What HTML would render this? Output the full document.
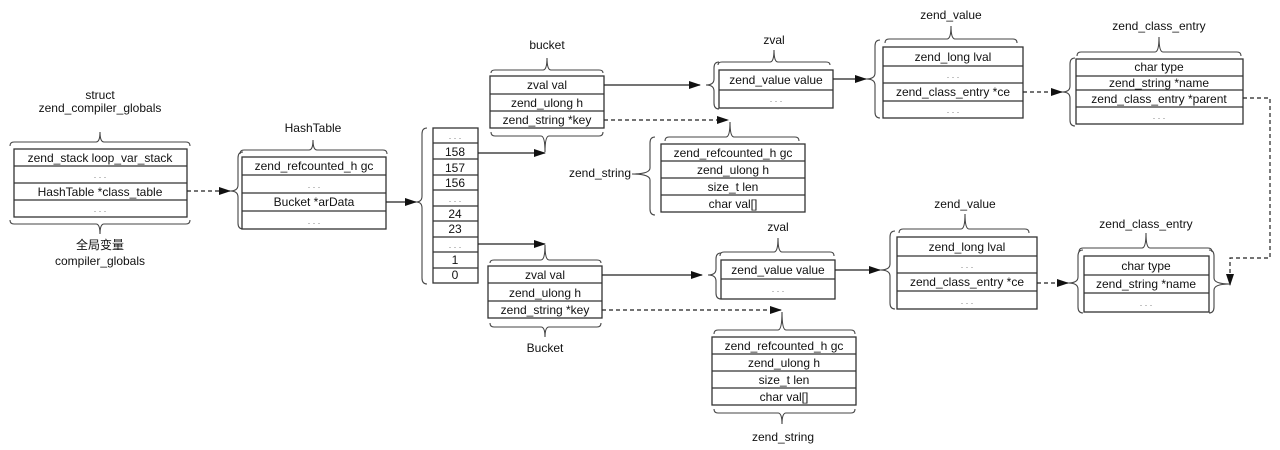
<!DOCTYPE html>
<html><head><meta charset="utf-8"><style>
html,body{margin:0;padding:0;background:#fff;width:1280px;height:450px;overflow:hidden}
svg text{font-family:"Liberation Sans","Noto Sans CJK SC",sans-serif;font-size:12px;fill:#111;text-anchor:middle}
.b{fill:#fff;stroke:#333;stroke-width:1.3}
.l{stroke:#333;stroke-width:1.2}
.br{fill:none;stroke:#444;stroke-width:1.1}
.a{stroke:#222;stroke-width:1.2;fill:none}
.d{stroke:#222;stroke-width:1.2;fill:none;stroke-dasharray:4,3}
svg text.dot{fill:#777;font-size:9px}
</style></head><body>
<svg width="1280" height="450" viewBox="0 0 1280 450" xmlns="http://www.w3.org/2000/svg">
<defs><marker id="m" markerWidth="12" markerHeight="8" refX="11" refY="4" orient="auto" markerUnits="userSpaceOnUse"><path d="M0,0 L12,4 L0,8 z" fill="#111"/></marker></defs>

<!-- compiler globals -->
<text x="100" y="99">struct</text><text x="100" y="112">zend_compiler_globals</text>
<path class="br" d="M10,146 Q10,142 14,142 L96,142 Q100,142 100,132 Q100,142 104,142 L186,142 Q190,142 190,146"/>
<rect class="b" x="14" y="149" width="173" height="68"/>
<line class="l" x1="14" y1="166" x2="187" y2="166"/><line class="l" x1="14" y1="183" x2="187" y2="183"/><line class="l" x1="14" y1="200" x2="187" y2="200"/>
<text x="100" y="162">zend_stack loop_var_stack</text><text class="dot" x="100" y="178">. . .</text>
<text x="100" y="196">HashTable *class_table</text><text class="dot" x="100" y="212">. . .</text>
<path class="br" d="M10,220 Q10,224 14,224 L96,224 Q100,224 100,234 Q100,224 104,224 L186,224 Q190,224 190,220"/>
<text x="100" y="249">全局变量</text><text x="100" y="265">compiler_globals</text>
<path class="d" d="M187,191 L230,191" marker-end="url(#m)"/>

<!-- HashTable -->
<text x="313" y="132">HashTable</text>
<path class="br" d="M240,154 Q240,150 244,150 L309,150 Q313,150 313,140 Q313,150 317,150 L383,150 Q387,150 387,154"/>
<path class="br" d="M243,152 Q238,152 238,158 L238,185 Q238,191 230,191 Q238,191 238,197 L238,223 Q238,229 243,229"/>
<rect class="b" x="242" y="157" width="144" height="72"/>
<line class="l" x1="242" y1="175" x2="386" y2="175"/><line class="l" x1="242" y1="193" x2="386" y2="193"/><line class="l" x1="242" y1="211" x2="386" y2="211"/>
<text x="314" y="170">zend_refcounted_h gc</text><text class="dot" x="314" y="188">. . .</text>
<text x="314" y="206">Bucket *arData</text><text class="dot" x="314" y="224">. . .</text>
<path class="a" d="M386,202 L416,202" marker-end="url(#m)"/>
<path class="br" d="M427,128 Q422,128 422,134 L422,196 Q422,202 416,202 Q422,202 422,208 L422,278 Q422,284 427,284"/>

<!-- array -->
<rect class="b" x="433" y="128" width="45" height="155"/>
<g class="l">
<line x1="433" y1="143" x2="478" y2="143"/><line x1="433" y1="159" x2="478" y2="159"/><line x1="433" y1="175" x2="478" y2="175"/><line x1="433" y1="190" x2="478" y2="190"/><line x1="433" y1="206" x2="478" y2="206"/><line x1="433" y1="221" x2="478" y2="221"/><line x1="433" y1="237" x2="478" y2="237"/><line x1="433" y1="252" x2="478" y2="252"/><line x1="433" y1="268" x2="478" y2="268"/>
</g>
<text class="dot" x="455" y="139">. . .</text><text x="455" y="156">158</text><text x="455" y="172">157</text><text x="455" y="187">156</text><text class="dot" x="455" y="202">. . .</text><text x="455" y="218">24</text><text x="455" y="233">23</text><text class="dot" x="455" y="248">. . .</text><text x="455" y="264">1</text><text x="455" y="279">0</text>

<!-- bucket top -->
<text x="547" y="49">bucket</text>
<path class="br" d="M491,73 Q491,70 495,70 L543,70 Q547,70 547,58 Q547,70 551,70 L599,70 Q603,70 603,73"/>
<rect class="b" x="490" y="76" width="114" height="52"/>
<line class="l" x1="490" y1="94" x2="604" y2="94"/><line class="l" x1="490" y1="111" x2="604" y2="111"/>
<text x="547" y="89">zval val</text><text x="547" y="107">zend_ulong h</text><text x="547" y="124">zend_string *key</text>
<path class="br" d="M491,132 Q491,136 495,136 L541,136 Q545,136 545,152 Q545,136 549,136 L599,136 Q603,136 603,132"/>
<path class="a" d="M478,153 L545,153" marker-end="url(#m)"/>
<path class="a" d="M604,85 L700,85" marker-end="url(#m)"/>
<path class="d" d="M604,120 L728,120" marker-end="url(#m)"/>

<!-- zval top -->
<text x="774" y="44">zval</text>
<path class="br" d="M718,65 Q718,62 722,62 L770,62 Q774,62 774,50 Q774,62 778,62 L826,62 Q830,62 830,65"/>
<path class="br" d="M719,62 Q714,62 714,68 L714,79 Q714,85 706,85 Q714,85 714,91 L714,103 Q714,109 719,109"/>
<rect class="b" x="719" y="70" width="114" height="38"/>
<line class="l" x1="719" y1="90" x2="833" y2="90"/>
<text x="776" y="84">zend_value value</text><text class="dot" x="776" y="102">. . .</text>
<path class="a" d="M833,79 L866,79" marker-end="url(#m)"/>

<!-- zend_string top -->
<path class="br" d="M665,141 Q665,137 669,137 L726,137 Q730,137 730,122 Q730,137 734,137 L795,137 Q799,137 799,141"/>
<path class="br" d="M655,137 Q650,137 650,143 L650,168 Q650,174 632,174 Q650,174 650,180 L650,209 Q650,215 655,215"/>
<text x="600" y="177">zend_string</text>
<rect class="b" x="661" y="144" width="144" height="68"/>
<line class="l" x1="661" y1="161" x2="805" y2="161"/><line class="l" x1="661" y1="178" x2="805" y2="178"/><line class="l" x1="661" y1="195" x2="805" y2="195"/>
<text x="733" y="157">zend_refcounted_h gc</text><text x="733" y="174">zend_ulong h</text><text x="733" y="191">size_t len</text><text x="733" y="208">char val[]</text>

<!-- zend_value top -->
<text x="951" y="19">zend_value</text>
<path class="br" d="M885,43 Q885,39 889,39 L947,39 Q951,39 951,26 Q951,39 955,39 L1013,39 Q1017,39 1017,43"/>
<path class="br" d="M880,40 Q875,40 875,46 L875,73 Q875,79 866,79 Q875,79 875,85 L875,112 Q875,118 880,118"/>
<rect class="b" x="883" y="47" width="140" height="71"/>
<line class="l" x1="883" y1="66" x2="1023" y2="66"/><line class="l" x1="883" y1="83" x2="1023" y2="83"/><line class="l" x1="883" y1="101" x2="1023" y2="101"/>
<text x="953" y="61">zend_long lval</text><text class="dot" x="953" y="78">. . .</text><text x="953" y="96">zend_class_entry *ce</text><text class="dot" x="953" y="113">. . .</text>
<path class="d" d="M1023,92 L1062,92" marker-end="url(#m)"/>

<!-- zend_class_entry top -->
<text x="1159" y="30">zend_class_entry</text>
<path class="br" d="M1077,56 Q1077,52 1081,52 L1155,52 Q1159,52 1159,37 Q1159,52 1163,52 L1237,52 Q1241,52 1241,56"/>
<path class="br" d="M1075,58 Q1070,58 1070,64 L1070,86 Q1070,92 1062,92 Q1070,92 1070,98 L1070,120 Q1070,126 1075,126"/>
<rect class="b" x="1076" y="59" width="167" height="65"/>
<line class="l" x1="1076" y1="76" x2="1243" y2="76"/><line class="l" x1="1076" y1="90" x2="1243" y2="90"/><line class="l" x1="1076" y1="107" x2="1243" y2="107"/>
<text x="1159" y="71">char type</text><text x="1159" y="87">zend_string *name</text><text x="1159" y="103">zend_class_entry *parent</text><text class="dot" x="1159" y="119">. . .</text>
<path class="d" d="M1243,98 L1270,98 L1270,258 L1230,258 L1230,285" marker-end="url(#m)"/>

<!-- bottom bucket -->
<path class="a" d="M478,244 L545,244" marker-end="url(#m)"/>
<path class="br" d="M490,263 Q490,260 494,260 L541,260 Q545,260 545,245 Q545,260 549,260 L597,260 Q601,260 601,263"/>
<rect class="b" x="488" y="266" width="114" height="52"/>
<line class="l" x1="488" y1="283" x2="602" y2="283"/><line class="l" x1="488" y1="301" x2="602" y2="301"/>
<text x="545" y="279">zval val</text><text x="545" y="297">zend_ulong h</text><text x="545" y="314">zend_string *key</text>
<path class="br" d="M490,323 Q490,327 494,327 L541,327 Q545,327 545,337 Q545,327 549,327 L597,327 Q601,327 601,323"/>
<text x="545" y="352">Bucket</text>
<path class="a" d="M602,275 L702,275" marker-end="url(#m)"/>
<path class="d" d="M602,310 L781,310" marker-end="url(#m)"/>

<!-- zval bottom -->
<text x="778" y="231">zval</text>
<path class="br" d="M720,256 Q720,252 724,252 L774,252 Q778,252 778,238 Q778,252 782,252 L830,252 Q834,252 834,256"/>
<path class="br" d="M721,253 Q716,253 716,259 L716,269 Q716,275 708,275 Q716,275 716,281 L716,293 Q716,299 721,299"/>
<rect class="b" x="721" y="260" width="114" height="39"/>
<line class="l" x1="721" y1="279" x2="835" y2="279"/>
<text x="778" y="274">zend_value value</text><text class="dot" x="778" y="292">. . .</text>
<path class="a" d="M835,270 L880,270" marker-end="url(#m)"/>

<!-- zend_string bottom -->
<path class="br" d="M714,334 Q714,330 718,330 L778,330 Q782,330 782,312 Q782,330 786,330 L851,330 Q855,330 855,334"/>
<rect class="b" x="712" y="337" width="144" height="68"/>
<line class="l" x1="712" y1="354" x2="856" y2="354"/><line class="l" x1="712" y1="371" x2="856" y2="371"/><line class="l" x1="712" y1="388" x2="856" y2="388"/>
<text x="784" y="350">zend_refcounted_h gc</text><text x="784" y="367">zend_ulong h</text><text x="784" y="384">size_t len</text><text x="784" y="401">char val[]</text>
<path class="br" d="M714,409 Q714,413 718,413 L778,413 Q782,413 782,424 Q782,413 786,413 L851,413 Q855,413 855,409"/>
<text x="783" y="441">zend_string</text>

<!-- zend_value bottom -->
<text x="965" y="208">zend_value</text>
<path class="br" d="M899,233 Q899,229 903,229 L961,229 Q965,229 965,214 Q965,229 969,229 L1025,229 Q1029,229 1029,233"/>
<path class="br" d="M895,231 Q890,231 890,237 L890,264 Q890,270 880,270 Q890,270 890,276 L890,303 Q890,309 895,309"/>
<rect class="b" x="897" y="237" width="140" height="72"/>
<line class="l" x1="897" y1="256" x2="1037" y2="256"/><line class="l" x1="897" y1="273" x2="1037" y2="273"/><line class="l" x1="897" y1="291" x2="1037" y2="291"/>
<text x="967" y="251">zend_long lval</text><text class="dot" x="967" y="268">. . .</text><text x="967" y="286">zend_class_entry *ce</text><text class="dot" x="967" y="304">. . .</text>
<path class="d" d="M1037,283 L1068,283" marker-end="url(#m)"/>

<!-- zend_class_entry bottom -->
<text x="1146" y="228">zend_class_entry</text>
<path class="br" d="M1079,252 Q1079,248 1083,248 L1142,248 Q1146,248 1146,233 Q1146,248 1150,248 L1208,248 Q1212,248 1212,252"/>
<path class="br" d="M1083,250 Q1078,250 1078,256 L1078,277 Q1078,283 1068,283 Q1078,283 1078,289 L1078,307 Q1078,313 1083,313"/>
<path class="br" d="M1209,250 Q1214,250 1214,256 L1214,278 Q1214,284 1230,284 Q1214,284 1214,290 L1214,307 Q1214,313 1209,313"/>
<rect class="b" x="1084" y="256" width="125" height="56"/>
<line class="l" x1="1084" y1="275" x2="1209" y2="275"/><line class="l" x1="1084" y1="293" x2="1209" y2="293"/>
<text x="1146" y="270">char type</text><text x="1146" y="288">zend_string *name</text><text class="dot" x="1146" y="306">. . .</text>
</svg>
</body></html>
